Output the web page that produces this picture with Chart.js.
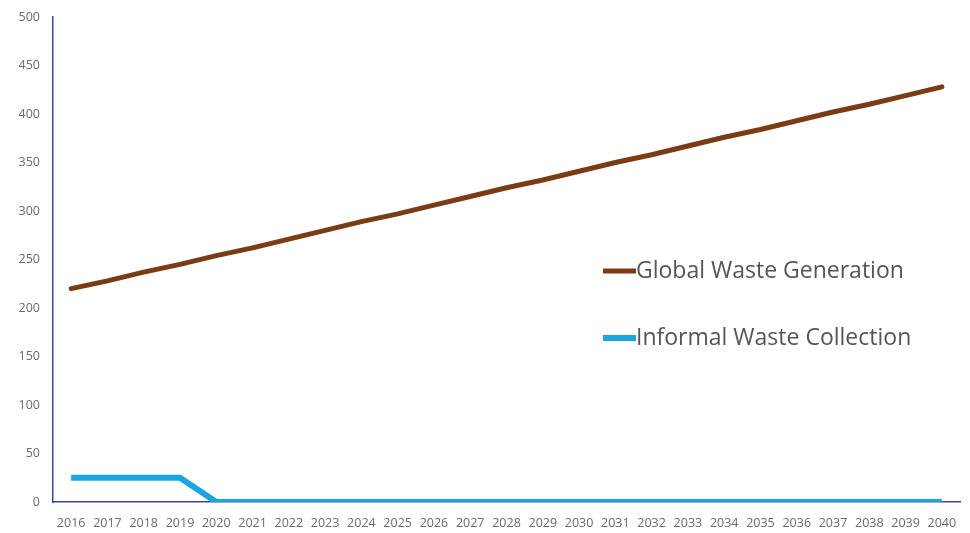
<!DOCTYPE html>
<html>
<head>
<meta charset="utf-8">
<script src="https://cdn.jsdelivr.net/npm/chart.js@4/dist/chart.umd.min.js"></script>
<style>
  html, body { margin: 0; padding: 0; background: #fff; }
  #wrap { width: 970px; height: 533px; }
</style>
</head>
<body>
<div id="wrap"><canvas id="wasteChart"></canvas></div>
<script>
// years on the x axis
var years = ['2016','2017','2018','2019','2020','2021','2022','2023','2024','2025','2026','2027','2028',
             '2029','2030','2031','2032','2033','2034','2035','2036','2037','2038','2039','2040'];

// global waste generation
var globalWaste = [220, 228, 237, 245, 254, 262, 271, 280, 289, 297, 306, 315, 324,
                   332, 341, 350, 358, 367, 376, 384, 393, 402, 410, 419, 428];

// informal waste collection
var informalWaste = [25, 25, 25, 25, 0, 0, 0, 0, 0, 0, 0, 0, 0,
                     0, 0, 0, 0, 0, 0, 0, 0, 0, 0, 0, 0];

var yTicks = [0, 50, 100, 150, 200, 250, 300, 350, 400, 450, 500];

// legend drawn inside the plot, like the original
var insideLegend = {
  id: 'insideLegend',
  afterDraw: function (chart) {
    var ctx = chart.ctx;
    var spots = [{ x: 603, y: 271 }, { x: 603, y: 338 }];
    ctx.save();
    chart.data.datasets.forEach(function (ds, i) {
      var p = spots[i];
      ctx.strokeStyle = ds.borderColor;
      ctx.lineWidth = i === 0 ? 5 : 6;
      ctx.beginPath();
      ctx.moveTo(p.x, p.y);
      ctx.lineTo(p.x + 33, p.y);
      ctx.stroke();
      ctx.fillStyle = '#555555';
      ctx.font = '23px "Open Sans", sans-serif';
      ctx.textBaseline = 'middle';
      ctx.fillText(ds.label, p.x + 33, p.y);
    });
    ctx.restore();
  }
};

var ctx = document.getElementById('wasteChart').getContext('2d');
var wasteChart = new Chart(ctx, {
  type: 'line',
  data: {
    labels: years,
    datasets: [
      {
        label: 'Global Waste Generation',
        data: globalWaste,
        borderColor: '#7a3c14',
        borderWidth: 5,
        pointRadius: 0,
        tension: 0,
        borderCapStyle: 'round'
      },
      {
        label: 'Informal Waste Collection',
        data: informalWaste,
        borderColor: '#1ca6df',
        borderWidth: 6,
        pointRadius: 0,
        tension: 0,
        borderCapStyle: 'butt'
      }
    ]
  },
  options: {
    responsive: true,
    maintainAspectRatio: false,
    animation: false,
    layout: { padding: { top: 17, right: 10, left: 0, bottom: 0 } },
    plugins: {
      legend: { display: false },
      tooltip: { enabled: false }
    },
    scales: {
      x: {
        offset: true,
        grid: { display: false },
        border: { display: true, color: '#3a4a98', width: 1.5 },
        ticks: {
          color: '#6a6a6a',
          font: { family: '"Open Sans", sans-serif', size: 12.5 },
          maxRotation: 0,
          autoSkip: false,
          padding: 6
        },
        afterFit: function (scale) { scale.height = 31; }
      },
      y: {
        min: 0,
        max: 500,
        afterBuildTicks: function (scale) {
          scale.ticks = yTicks.map(function (v) { return { value: v }; });
        },
        grid: { display: false },
        border: { display: true, color: '#3a4a98', width: 1.5 },
        ticks: {
          color: '#6a6a6a',
          font: { family: '"Open Sans", sans-serif', size: 12.5 },
          padding: 5
        },
        afterFit: function (scale) { scale.width = 53; }
      }
    }
  },
  plugins: [insideLegend]
});
</script>
</body>
</html>
